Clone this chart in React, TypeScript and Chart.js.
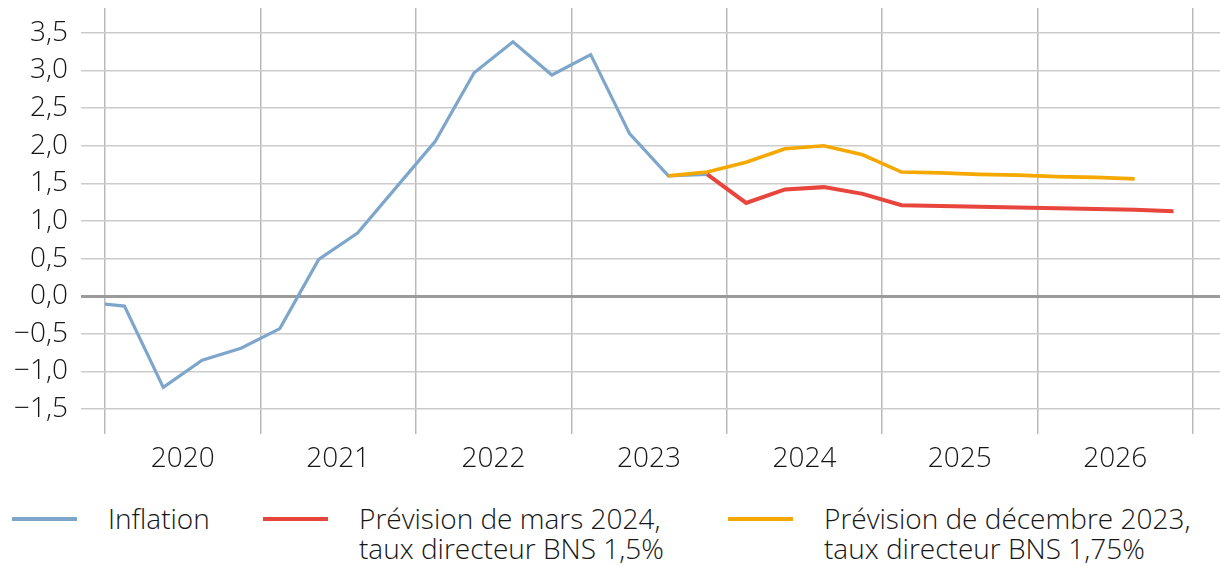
import React, { useEffect, useRef } from "react";
import { Chart, registerables } from "chart.js";

Chart.register(...registerables);

// Quarterly data; first quarter of each series
const inflationStart = { year: 2019, quarter: 4 };
const inflation = [-0.08, -0.13, -1.21, -0.85, -0.69, -0.43, 0.49, 0.84, 1.45, 2.06, 2.97, 3.38, 2.94, 3.21, 2.16, 1.6, 1.62];

const marchStart = { year: 2023, quarter: 4 };
const marchForecast = [1.62, 1.24, 1.42, 1.45, 1.36, 1.21, 1.2, 1.19, 1.18, 1.17, 1.16, 1.15, 1.13];

const decStart = { year: 2023, quarter: 3 };
const decForecast = [1.6, 1.65, 1.78, 1.96, 2.0, 1.88, 1.65, 1.64, 1.62, 1.61, 1.59, 1.58, 1.56];

const years = [2020, 2021, 2022, 2023, 2024, 2025, 2026];
const yTicks = [-1.5, -1.0, -0.5, 0, 0.5, 1.0, 1.5, 2.0, 2.5, 3.0, 3.5];

const legendItems = [
  { lines: ["Inflation"], color: "#7ea6cb" },
  { lines: ["Prévision de mars 2024,", "taux directeur BNS 1,5%"], color: "#e8453c" },
  { lines: ["Prévision de décembre 2023,", "taux directeur BNS 1,75%"], color: "#f5a800" },
];

const FONT = "'Open Sans', 'Noto Sans', sans-serif";
const WEIGHT = 300;
const SIZE = 28;
const TEXT = "#161616";

function toPoints(start: { year: number; quarter: number }, values: number[]) {
  return values.map((v, i) => {
    const idx = start.quarter - 1 + i;
    const year = start.year + Math.floor(idx / 4);
    const q = (idx % 4) + 1;
    return { x: year + (q - 0.5) / 4, y: v };
  });
}

function fmt(v: number) {
  return v.toFixed(1).replace(".", ",").replace("-", "\u2212");
}

export default function App() {
  const ref = useRef<HTMLCanvasElement | null>(null);

  useEffect(() => {
    if (!ref.current) return;
    const xMin = years[0];
    const xMax = years[years.length - 1] + 1.174;
    const chart = new Chart(ref.current, {
      type: "line",
      data: {
        datasets: [
          {
            label: "Inflation",
            data: toPoints(inflationStart, inflation),
            borderColor: legendItems[0].color,
            borderWidth: 3.2,
            pointRadius: 0,
            tension: 0,
            order: 3,
            clip: 0,
          },
          {
            label: "Prévision de décembre 2023",
            data: toPoints(decStart, decForecast),
            borderColor: legendItems[2].color,
            borderWidth: 3.6,
            pointRadius: 0,
            tension: 0,
            order: 2,
            clip: 0,
          },
          {
            label: "Prévision de mars 2024",
            data: toPoints(marchStart, marchForecast),
            borderColor: legendItems[1].color,
            borderWidth: 4,
            pointRadius: 0,
            tension: 0,
            order: 1,
            clip: 0,
          },
        ],
      },
      options: {
        responsive: false,
        animation: false,
        layout: { padding: { top: 8, right: 0, left: 0, bottom: 0 } },
        plugins: { legend: { display: false }, tooltip: { enabled: false } },
        scales: {
          x: {
            type: "linear",
            min: xMin,
            max: xMax,
            afterBuildTicks: (scale: any) => {
              const t: any[] = [];
              years.forEach((y) => {
                t.push({ value: y });
                t.push({ value: y + 0.5 });
              });
              t.push({ value: years[years.length - 1] + 1 });
              scale.ticks = t;
            },
            afterFit: (scale: any) => {
              scale.height = 56;
              scale.paddingLeft = 0;
              scale.paddingRight = 0;
            },
            border: { display: false },
            grid: {
              drawTicks: false,
              color: (ctx: any) => (ctx.tick && Number.isInteger(ctx.tick.value) ? "#b9b9b9" : "rgba(0,0,0,0)"),
              lineWidth: 1.5,
            },
            ticks: {
              autoSkip: false,
              maxRotation: 0,
              padding: 8,
              color: TEXT,
              font: { family: FONT, size: SIZE, weight: WEIGHT },
              callback: (v: any) => (Number.isInteger(v) ? "" : String(Math.floor(v))),
            },
          },
          y: {
            type: "linear",
            min: -1.83,
            max: 3.83,
            afterBuildTicks: (scale: any) => {
              scale.ticks = yTicks.map((v) => ({ value: v }));
            },
            afterFit: (scale: any) => {
              scale.width = 105;
              scale.paddingTop = 0;
              scale.paddingBottom = 0;
            },
            border: { display: false },
            grid: {
              drawTicks: true,
              tickLength: 24,
              color: (ctx: any) => (ctx.tick && ctx.tick.value === 0 ? "#9b9b9b" : "#cbcbcb"),
              lineWidth: (ctx: any) => (ctx.tick && ctx.tick.value === 0 ? 3 : 1.5),
            },
            ticks: {
              padding: 13,
              color: TEXT,
              font: { family: FONT, size: SIZE, weight: WEIGHT },
              callback: (v: any) => fmt(Number(v)),
            },
          },
        },
      },
    } as any);
    return () => chart.destroy();
  }, []);

  const lefts = [12, 263, 728];

  return (
    <div style={{ position: "absolute", left: 0, top: 0, width: 1220, height: 566, background: "#fff", overflow: "hidden" }}>
      <canvas ref={ref} width={1220} height={490} style={{ display: "block", width: 1220, height: 490 }} />
      {legendItems.map((it, i) => (
        <div key={i} style={{ position: "absolute", left: lefts[i], top: 503, display: "flex", alignItems: "flex-start" }}>
          <div style={{ width: 65, height: 4, background: it.color, marginTop: 14, flex: "none" }} />
          <div style={{ marginLeft: 31, fontFamily: FONT, fontWeight: WEIGHT, fontSize: SIZE, lineHeight: "30px", color: TEXT, whiteSpace: "nowrap" }}>
            {it.lines.map((l, j) => (
              <div key={j}>{l}</div>
            ))}
          </div>
        </div>
      ))}
    </div>
  );
}
